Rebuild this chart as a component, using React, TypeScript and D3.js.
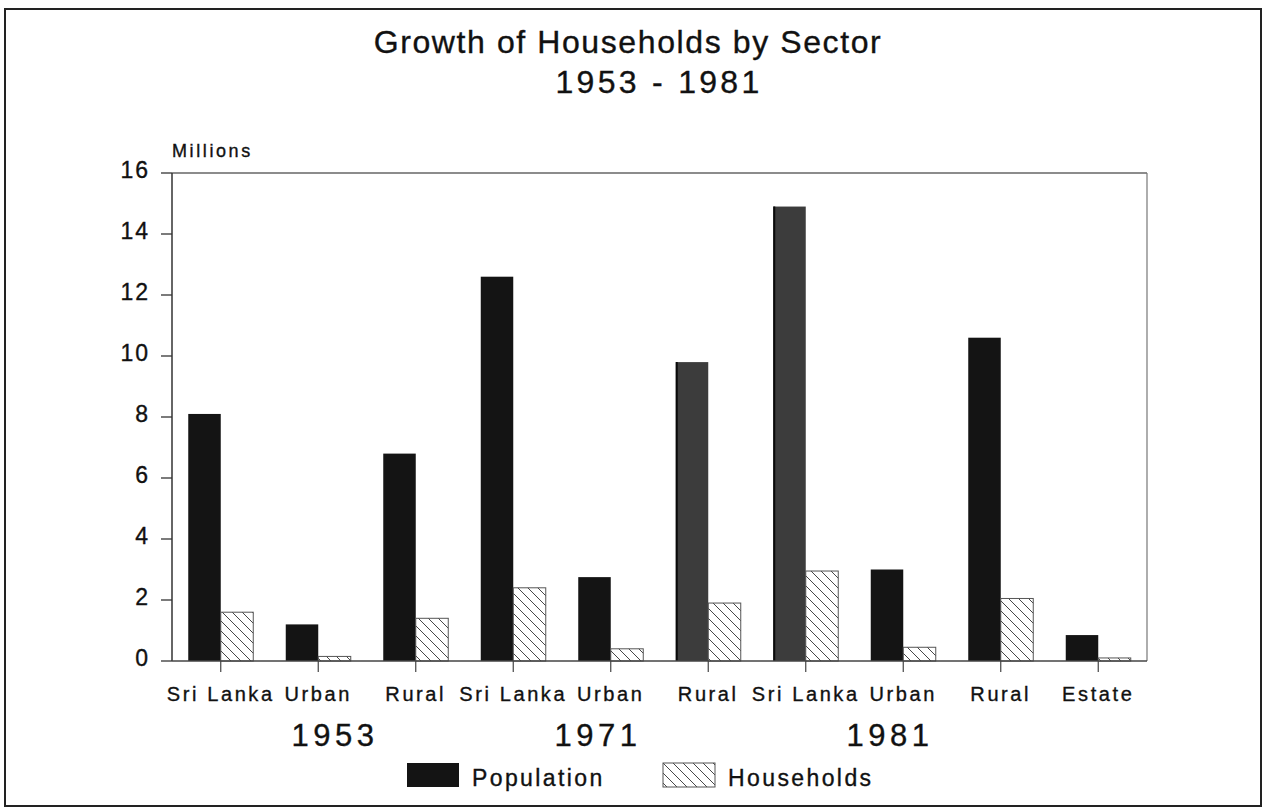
import React from 'react';
import * as d3 from 'd3';

// values (millions)
const categories = ['Sri Lanka', 'Urban', 'Rural', 'Sri Lanka', 'Urban', 'Rural', 'Sri Lanka', 'Urban', 'Rural', 'Estate'];
const population = [8.1, 1.2, 6.8, 12.6, 2.75, 9.8, 14.9, 3.0, 10.6, 0.85];
const households = [1.6, 0.15, 1.4, 2.4, 0.4, 1.9, 2.95, 0.45, 2.05, 0.1];
const years = ['1953', '1971', '1981'];
const yTicks = [0, 2, 4, 6, 8, 10, 12, 14, 16];
const seriesNames = ['Population', 'Households'];

const W = 1263;
const H = 808;
const margin = { top: 173, right: 116, bottom: 147, left: 172 };
const FONT = '"Liberation Sans", Arial, Helvetica, sans-serif';

// the two population bars that came out lighter in the scan
const lighterBars = new Set([5, 6]);
// where the year captions sit under the category labels
const yearX = [335, 598, 890];

const App = () => {
  const x = d3
    .scaleBand<number>()
    .domain(d3.range(categories.length))
    .range([margin.left, W - margin.right])
    .paddingInner(1 / 3)
    .paddingOuter(1 / 6);
  const y = d3.scaleLinear().domain([0, 16]).range([H - margin.bottom, margin.top]);
  const bw = x.bandwidth() / 2;
  const y0 = y(0);

  const ink = { fill: '#111', stroke: '#111', strokeWidth: 0.35 };

  return (
    <svg
      width={W}
      height={H}
      style={{ position: 'absolute', left: 0, top: 0, background: '#fff' }}
      fontFamily={FONT}
    >
      <defs>
        <pattern id="hatch" width={10} height={10} patternUnits="userSpaceOnUse">
          <path d="M0,0L10,10M-5,5L5,15M5,-5L15,5" stroke="#333" strokeWidth={0.9} />
        </pattern>
      </defs>

      {/* page frame */}
      <rect x={5} y={9} width={1256} height={797} fill="none" stroke="#222" strokeWidth={2} />

      <text x={628} y={53} textAnchor="middle" fontSize={32} letterSpacing={1.6} {...ink}>
        Growth of Households by Sector
      </text>
      <text x={659} y={93} textAnchor="middle" fontSize={32} letterSpacing={3.3} {...ink}>
        1953 - 1981
      </text>

      {/* plot frame */}
      <line x1={margin.left} x2={W - margin.right} y1={y(16)} y2={y(16)} stroke="#666" strokeWidth={1.5} />
      <line x1={W - margin.right} x2={W - margin.right} y1={y(16)} y2={y0} stroke="#777" strokeWidth={1.2} />

      {/* y axis */}
      <line x1={margin.left} x2={margin.left} y1={y(16)} y2={y0} stroke="#333" strokeWidth={1.5} />
      {yTicks.map((t) => (
        <g key={t}>
          <line x1={margin.left - 11} x2={margin.left} y1={y(t)} y2={y(t)} stroke="#333" strokeWidth={1.3} />
          <text
            x={margin.left - 22}
            y={y(t) - 3}
            textAnchor="end"
            dominantBaseline="central"
            fontSize={23}
            letterSpacing={2}
            {...ink}
          >
            {t}
          </text>
        </g>
      ))}
      <text x={margin.left} y={157} fontSize={18} letterSpacing={2.6} {...ink}>
        Millions
      </text>

      {/* bars */}
      {categories.map((c, i) => (
        <g key={i}>
          <rect
            x={x(i)}
            y={y(population[i])}
            width={bw}
            height={y0 - y(population[i])}
            fill={lighterBars.has(i) ? '#3c3c3c' : '#141414'}
          />
          {lighterBars.has(i) && (
            <line x1={x(i)! + 1} x2={x(i)! + 1} y1={y(population[i])} y2={y0} stroke="#0a0a0a" strokeWidth={2} />
          )}
          <rect
            x={x(i)! + bw}
            y={y(households[i])}
            width={bw}
            height={y0 - y(households[i])}
            fill="url(#hatch)"
            stroke="#555"
            strokeWidth={1}
          />
        </g>
      ))}

      {/* x axis */}
      <line x1={margin.left} x2={W - margin.right} y1={y0} y2={y0} stroke="#444" strokeWidth={1.3} />
      {categories.map((c, i) => {
        const cx = x(i)! + x.bandwidth() / 2;
        return (
          <g key={i}>
            <line x1={cx} x2={cx} y1={y0} y2={y0 + 11} stroke="#444" strokeWidth={1.2} />
            <text x={cx} y={701} textAnchor="middle" fontSize={20} letterSpacing={2.6} {...ink}>
              {c}
            </text>
          </g>
        );
      })}
      {years.map((yr, i) => (
        <text key={yr} x={yearX[i]} y={746} textAnchor="middle" fontSize={31} letterSpacing={4.5} {...ink}>
          {yr}
        </text>
      ))}

      {/* legend */}
      <rect x={407} y={763} width={52} height={24} fill="#141414" />
      <text x={472} y={786} fontSize={23} letterSpacing={2.4} {...ink}>
        {seriesNames[0]}
      </text>
      <rect x={663} y={763} width={52} height={24} fill="url(#hatch)" stroke="#555" strokeWidth={1} />
      <text x={728} y={786} fontSize={23} letterSpacing={2.4} {...ink}>
        {seriesNames[1]}
      </text>
    </svg>
  );
};

export default App;
